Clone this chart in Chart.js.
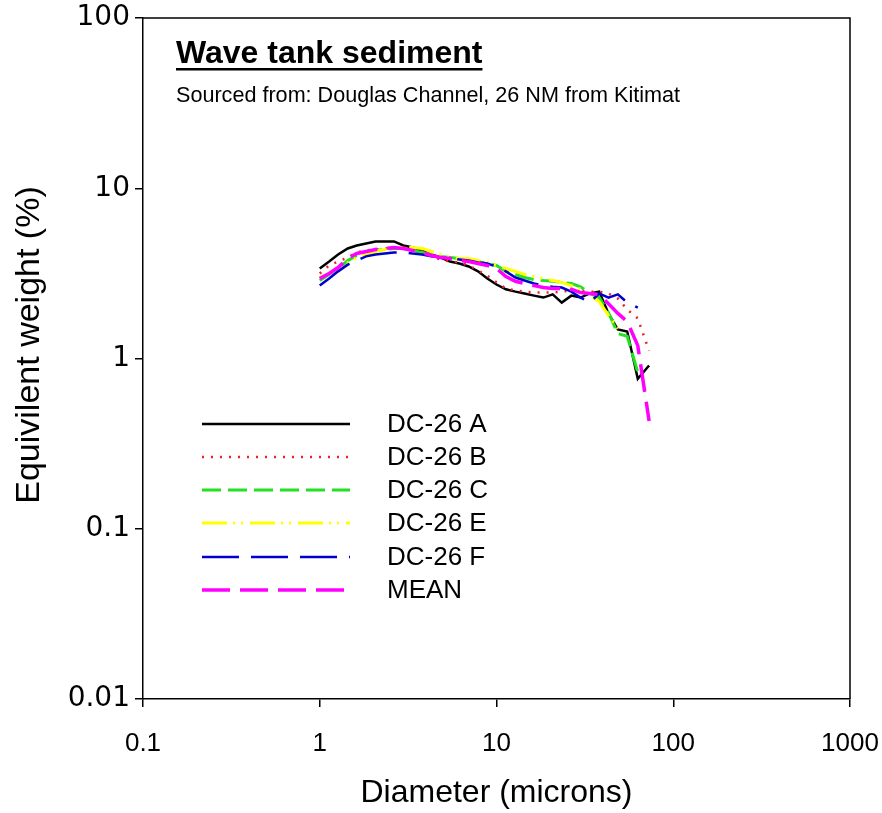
<!DOCTYPE html>
<html><head><meta charset="utf-8">
<script src="https://cdn.jsdelivr.net/npm/chart.js@4.4.0/dist/chart.umd.min.js"></script>
<style>html,body{margin:0;padding:0;background:#fff}#wrap{width:882px;height:813px}</style>
</head><body><div id="wrap"><canvas id="c" width="882" height="813"></canvas></div>
<script>
// ---- data ----
const diameters = [1.00,1.13,1.27,1.44,1.62,1.83,2.07,2.33,2.63,2.97,3.36,3.79,4.28,4.83,5.46,6.16,6.96,7.86,8.87,10.0,11.3,12.8,14.4,16.3,18.4,20.8,23.4,26.5,29.9,33.7,38.1,43.0,48.6,54.9,63.0,73.0];
const dc26A = [3.38,3.71,4.08,4.43,4.61,4.74,4.87,4.87,4.87,4.61,4.49,4.31,4.08,3.92,3.71,3.61,3.47,3.25,2.95,2.72,2.55,2.47,2.41,2.34,2.28,2.38,2.13,2.34,2.28,2.41,2.47,1.84,1.48,1.44,0.76,0.91];
const dc26B = [3.16,3.52,3.71,3.92,4.20,4.31,4.37,4.43,4.49,4.49,4.43,4.25,3.98,3.81,3.71,3.66,3.52,3.29,3.07,2.80,2.58,2.51,2.47,2.44,2.44,2.44,2.47,2.51,2.51,2.47,2.47,2.41,2.25,1.94,1.72,1.11];
const dc26C = [2.87,3.12,3.38,3.76,4.03,4.20,4.31,4.37,4.43,4.43,4.31,4.20,4.08,3.98,3.92,3.87,3.76,3.71,3.61,3.52,3.25,3.12,2.99,2.91,2.87,2.84,2.80,2.76,2.64,2.41,2.28,1.86,1.40,1.35,0.83,null];
const dc26E = [2.99,3.16,3.38,3.66,3.92,4.08,4.25,4.37,4.49,4.49,4.49,4.43,4.25,4.08,3.92,3.87,3.87,3.76,3.66,3.52,3.38,3.25,3.12,3.03,2.95,2.87,2.80,2.68,2.55,2.34,2.16,1.79,1.50,null,null,null];
const dc26F = [2.68,2.95,3.25,3.56,3.76,3.98,4.08,4.14,4.20,4.20,4.14,4.08,3.98,3.92,3.87,3.81,3.76,3.66,3.61,3.47,3.25,2.99,2.87,2.76,2.68,2.64,2.61,2.47,2.28,2.13,2.41,2.28,2.38,2.13,1.99,null];
const mean  = [2.95,3.16,3.42,3.87,4.14,4.25,4.37,4.43,4.49,4.43,4.31,4.20,4.03,3.92,3.87,3.76,3.71,3.61,3.52,3.38,3.03,2.84,2.76,2.68,2.61,2.58,2.58,2.55,2.44,2.41,2.38,2.10,1.84,1.65,1.19,0.43];
const seriesNames = ['DC-26 A','DC-26 B','DC-26 C','DC-26 E','DC-26 F','MEAN'];
const xTicks = [0.1,1,10,100,1000];
const xTickLabels = ['0.1','1','10','100','1000'];
const yTicks = [0.01,0.1,1,10,100];
const yTickLabels = ['0.01','0.1','1','10','100'];

// ---- styles ----
const styles = [
  {color:'#000000', dash:[], width:2.5},
  {color:'#ee2222', dash:[2,7], width:2.5},
  {color:'#22e022', dash:[19,7], width:3},
  {color:'#ffff00', dash:[25,6,2,6,2,7], width:3},
  {color:'#0000cc', dash:[37,12], width:2.5},
  {color:'#ff00ff', dash:[28,10], width:3.5}
];
const allSeries = [dc26A, dc26B, dc26C, dc26E, dc26F, mean];

function pts(vals){ const out=[]; vals.forEach((v,i)=>{ if(v!==null) out.push({x:diameters[i], y:v}); }); return out; }

const datasets = allSeries.map((vals,i)=>({
  label: seriesNames[i],
  data: pts(vals),
  borderColor: styles[i].color,
  backgroundColor: styles[i].color,
  borderDash: styles[i].dash,
  borderWidth: styles[i].width,
  pointRadius: 0,
  tension: 0,
  fill: false,
  order: allSeries.length - 1 - i
}));

const FONT = "'Liberation Sans', Arial, sans-serif";

const framePlugin = {
  id:'frame',
  afterDraw(chart){
    const {ctx, chartArea:a} = chart;
    ctx.save();
    ctx.strokeStyle='#000'; ctx.lineWidth=1.5;
    ctx.beginPath();
    ctx.moveTo(a.left, a.top); ctx.lineTo(a.right, a.top); ctx.lineTo(a.right, a.bottom);
    ctx.stroke();
    // y axis title
    ctx.save();
    ctx.translate(30, 345);
    ctx.rotate(-Math.PI/2);
    ctx.font = "34px " + FONT;
    ctx.fillStyle = '#000';
    ctx.textAlign = 'center';
    ctx.textBaseline = 'middle';
    ctx.fillText('Equivilent weight (%)', 0, 0);
    ctx.restore();
    // title block
    ctx.fillStyle='#000';
    ctx.textBaseline='alphabetic';
    ctx.font = "bold 32px " + FONT;
    const t = 'Wave tank sediment';
    ctx.fillText(t, 176, 63);
    const w = ctx.measureText(t).width;
    ctx.fillRect(176, 68, w, 2.5);
    ctx.font = "21.6px " + FONT;
    ctx.fillText('Sourced from: Douglas Channel, 26 NM from Kitimat', 176, 102);
    // legend
    const ys = [424,457,490,523,557,590];
    chart.data.datasets.forEach((ds,i)=>{
      ctx.save();
      ctx.strokeStyle = ds.borderColor;
      ctx.lineWidth = ds.borderWidth;
      ctx.setLineDash(ds.borderDash);
      ctx.beginPath(); ctx.moveTo(202, ys[i]); ctx.lineTo(350, ys[i]); ctx.stroke();
      ctx.restore();
      ctx.fillStyle='#000';
      ctx.font = "26px " + FONT;
      ctx.textBaseline='middle';
      ctx.fillText(ds.label, 387, ys[i]+1);
    });
    ctx.restore();
  }
};

new Chart(document.getElementById('c'), {
  type:'line',
  data:{datasets},
  options:{
    responsive:false,
    devicePixelRatio:1,
    animation:false,
    layout:{padding:{left:0, top:18, right:32, bottom:0}},
    plugins:{legend:{display:false}, tooltip:{enabled:false}},
    scales:{
      x:{
        type:'logarithmic', position:'bottom', min:0.1, max:1000,
        afterBuildTicks(scale){ scale.ticks = xTicks.map(v=>({value:v})); },
        afterFit(scale){ scale.height = 114; scale.paddingLeft = 0; scale.paddingRight = 0; },
        ticks:{ autoSkip:false, maxRotation:0, color:'#000', padding:21,
          font:{family:FONT, size:26},
          callback(v){ const k = xTicks.indexOf(v); return k>=0 ? xTickLabels[k] : ''; } },
        grid:{ drawOnChartArea:false, drawTicks:true, tickLength:8, color:'#000', lineWidth:1.5 },
        border:{ color:'#000', width:1.5 },
        title:{ display:true, text:'Diameter (microns)', color:'#000', font:{family:FONT, size:32}, padding:{top:0,bottom:1} }
      },
      y:{
        type:'logarithmic', position:'left', min:0.01, max:100,
        afterBuildTicks(scale){ scale.ticks = yTicks.map(v=>({value:v})); },
        afterFit(scale){ scale.width = 143; scale.paddingTop = 0; scale.paddingBottom = 0; },
        ticks:{ autoSkip:false, color:'#000', padding:5,
          font:{family:"'DejaVu Sans', sans-serif", size:28},
          callback(v){ const k = yTicks.indexOf(v); return k>=0 ? yTickLabels[k] : ''; } },
        grid:{ drawOnChartArea:false, drawTicks:true, tickLength:8, color:'#000', lineWidth:1.5 },
        border:{ color:'#000', width:1.5 },
        title:{ display:false }
      }
    }
  },
  plugins:[framePlugin]
});
</script></body></html>
